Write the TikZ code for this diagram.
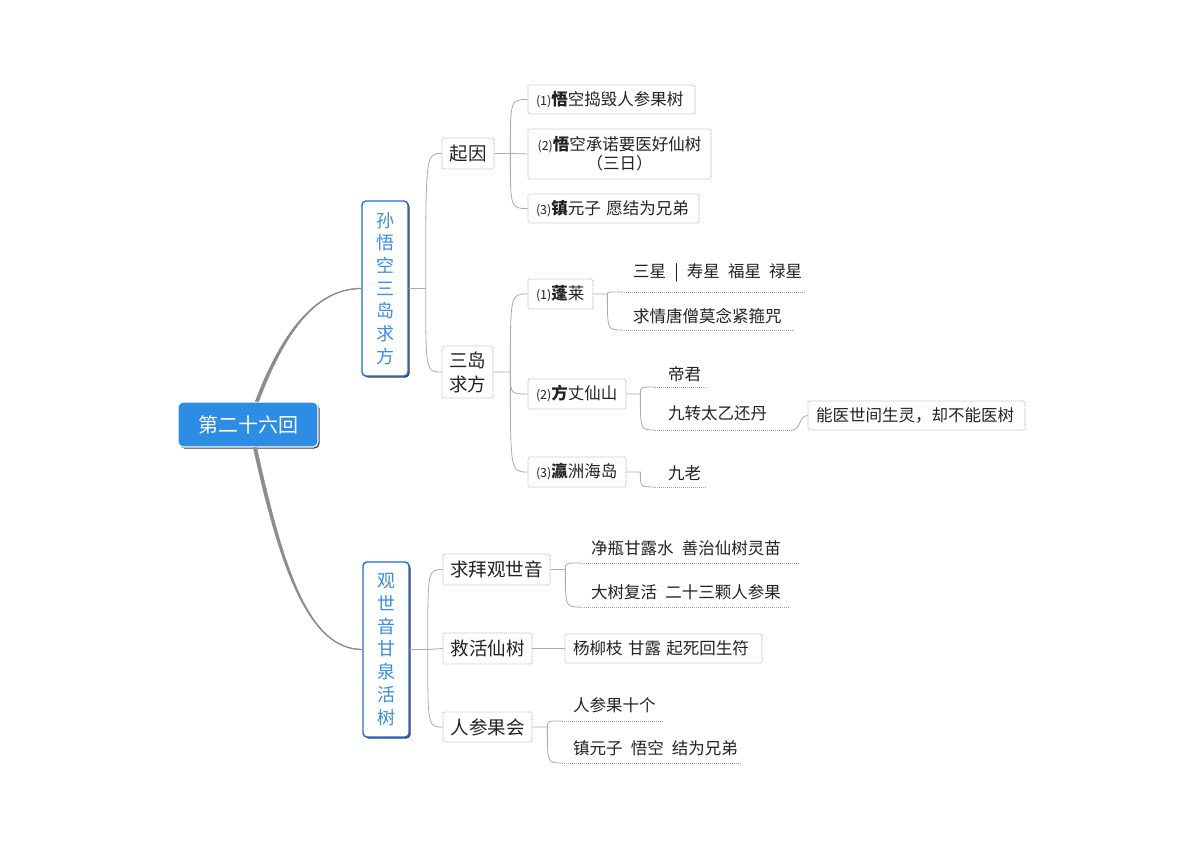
\documentclass[tikz,border=0pt]{standalone}
\usepackage{fontspec}
\setmainfont{Noto Sans CJK SC}[WordSpace=2.2]
\usetikzlibrary{shadows,calc}
\definecolor{rootblue}{HTML}{2D8CE3}
\definecolor{lineblue}{HTML}{1E6FE0}
\definecolor{textblue}{HTML}{3A8CE6}
\definecolor{conn}{HTML}{AAAAAA}
\definecolor{boxline}{HTML}{A0A0A0}
\definecolor{txt}{HTML}{222222}
\newcommand{\nm}[1]{{\fontsize{12.5}{13}\selectfont(#1)}}
\begin{document}
\begin{tikzpicture}[x=1pt,y=-1pt,
 rootbox/.style={rectangle, rounded corners=5pt, fill=rootblue, draw=white, line width=1.2pt, text=white, font=\fontsize{20}{24}\selectfont, minimum width=140pt, minimum height=45pt, inner sep=0pt, drop shadow={shadow xshift=1.5pt, shadow yshift=-1.5pt, fill=black!85, opacity=0.9}},
 mainbox/.style={rectangle, rounded corners=4pt, fill=white, draw=lineblue, line width=1.4pt, text=textblue, font=\fontsize{18}{22.7}\selectfont, align=center, minimum width=46pt, minimum height=175pt, inner sep=0pt, drop shadow={shadow xshift=1.5pt, shadow yshift=-1.5pt, fill=black!85, opacity=0.9}},
 subbox/.style={rectangle, rounded corners=1.5pt, fill=white, draw=boxline, dash pattern=on 1pt off 1pt, line width=0.7pt, text=txt, inner ysep=0pt},
 ltwo/.style={subbox, align=center, inner xsep=0pt, font=\fontsize{18.5}{24}\selectfont},
 lthree/.style={subbox, font=\fontsize{16.5}{19}\selectfont, inner xsep=8pt, text width=#1-16pt, align=left},
 leaftext/.style={anchor=west, text=txt, font=\fontsize{16.5}{19}\selectfont, inner sep=0pt},
 uline/.style={draw=boxline, dash pattern=on 1pt off 1pt, line width=0.7pt},
 link/.style={draw=conn, line width=0.8pt},
 mainlink/.style={fill=black!45, draw=black!45, line width=0.5pt},
]
\fill[white] (0,0) rectangle (1200,845);
\useasboundingbox (0,0) rectangle (1200,845);

% main nodes
\node[rootbox] (root) at (248,424.5) {第二十六回};
\node[mainbox] (A) at (385,288.5) {孙\\悟\\空\\三\\岛\\求\\方};
\node[mainbox] (B) at (386,649.5) {观\\世\\音\\甘\\泉\\活\\树};

% level 2
\node[ltwo, minimum width=52pt, minimum height=31pt] (qiyin) at (468,153.5) {起因};
\node[ltwo, minimum width=51pt, minimum height=52pt] (sandao) at (467.5,372) {三岛\\求方};
\node[ltwo, minimum width=107pt, minimum height=31pt] (qiubai) at (496.5,569.5) {求拜观世音};
\node[ltwo, minimum width=89pt, minimum height=31pt] (jiuhuo) at (487.5,648.5) {救活仙树};
\node[ltwo, minimum width=89pt, minimum height=30pt] (renshen) at (487.5,727) {人参果会};

% level 3 boxes
\node[lthree=167pt, minimum height=29pt] (q1) at (611.5,99.5) {\nm{1}\textbf{悟}空捣毁人参果树};
\node[lthree=183pt, align=center, minimum height=50pt] (q2) at (619.5,154) {\nm{2}\textbf{悟}空承诺要医好仙树\\（三日）};
\node[lthree=171pt, minimum height=29pt] (q3) at (613.5,208.5) {\nm{3}\textbf{镇}元子 愿结为兄弟};
\node[lthree=65pt, minimum height=30pt] (penglai) at (560.5,294) {\nm{1}\textbf{蓬}莱};
\node[lthree=98pt, minimum height=30pt] (fangzhang) at (577,394) {\nm{2}\textbf{方}丈仙山};
\node[lthree=98pt, minimum height=30pt] (yingzhou) at (577,472) {\nm{3}\textbf{瀛}洲海岛};
\node[lthree=217pt, minimum height=29pt] (nengyi) at (916.5,415.5) {能医世间生灵，却不能医树};
\node[lthree=197pt, minimum height=29pt] (yangliu) at (663.5,648.5) {杨柳枝 甘露 起死回生符};

% leaves
\node[leaftext] (sx) at (633,273) {三星 | 寿星 福星 禄星};
\coordinate (sxL) at (622,292); \coordinate (sxR) at (806,292);
\node[leaftext] (qq) at (633,316) {求情唐僧莫念紧箍咒};
\coordinate (qqL) at (622,330); \coordinate (qqR) at (793,330);
\node[leaftext] (dj) at (668,374) {帝君};
\coordinate (djL) at (655,387); \coordinate (djR) at (707,387);
\node[leaftext] (jz) at (668,413) {九转太乙还丹};
\coordinate (jzL) at (655,430); \coordinate (jzR) at (792,430);
\node[leaftext] (jl) at (668,473) {九老};
\coordinate (jlL) at (655,487); \coordinate (jlR) at (707,487);
\node[leaftext] (jp) at (591,548) {净瓶甘露水 善治仙树灵苗};
\coordinate (jpL) at (580,563); \coordinate (jpR) at (800,563);
\node[leaftext] (ds) at (591,592) {大树复活 二十三颗人参果};
\coordinate (dsL) at (580,607); \coordinate (dsR) at (790,607);
\node[leaftext] (rs) at (573,705) {人参果十个};
\coordinate (rsL) at (562,721); \coordinate (rsR) at (663,721);
\node[leaftext] (zy) at (573,748) {镇元子 悟空 结为兄弟};
\coordinate (zyL) at (562,763); \coordinate (zyR) at (742,763);

\foreach \n in {sx,qq,dj,jz,jl,jp,ds,rs,zy} \draw[uline] (\n L) -- (\n R);

% root connectors (tapered)
\path[mainlink] ($(root.north)+(7.3,0)$) .. controls +(25,-66) and +(-47,0) .. ($(A.west)+(0,-0.4)$)
  -- ($(A.west)+(0,0.4)$) .. controls +(-47,0) and +(25,-66) .. ($(root.north)+(10.7,0)$) -- cycle;
\path[mainlink] ($(root.south)+(5.3,0)$) .. controls +(27,123) and +(-53,0) .. ($(B.west)+(0,0.4)$)
  -- ($(B.west)+(0,-0.4)$) .. controls +(-53,0) and +(27,123) .. ($(root.south)+(8.7,0)$) -- cycle;

% junctions
\coordinate (jA) at ($(A.east)+(17,0)$);
\coordinate (jQ) at ($(qiyin.east)+(16,0)$);
\coordinate (jS) at ($(sandao.east)+(17,0)$);
\coordinate (jP) at ($(penglai.east)+(14,0)$);
\coordinate (jF) at ($(fangzhang.east)+(14,0)$);
\coordinate (jY) at ($(yingzhou.east)+(14,0)$);
\coordinate (jB) at ($(B.east)+(18,0)$);
\coordinate (jQB) at ($(qiubai.east)+(15,0)$);
\coordinate (jR) at ($(renshen.east)+(15,0)$);

\draw[link] (A.east) -- (jA) .. controls (jA |- qiyin.west) .. (qiyin.west);
\draw[link] (jA) .. controls (jA |- sandao.west) .. (sandao.west);

\draw[link] (qiyin.east) -- (jQ) -- (q2.west);
\draw[link] (jQ) .. controls (jQ |- q1.west) .. (q1.west);
\draw[link] (jQ) .. controls (jQ |- q3.west) .. (q3.west);

\draw[link] (sandao.east) -- (jS) .. controls (jS |- penglai.west) .. (penglai.west);
\draw[link] (jS) .. controls (jS |- fangzhang.west) .. (fangzhang.west);
\draw[link] (jS) .. controls (jS |- yingzhou.west) .. (yingzhou.west);

\draw[link] (penglai.east) -- (jP) .. controls (jP |- sxL) .. (sxL);
\draw[link] (jP) .. controls (jP |- qqL) .. (qqL);

\draw[link] (fangzhang.east) -- (jF) .. controls (jF |- djL) .. (djL);
\draw[link] (jF) .. controls (jF |- jzL) .. (jzL);
\draw[link] (jzR) .. controls +(9,0) and +(-9,0) .. (nengyi.west);

\draw[link] (yingzhou.east) -- (jY) .. controls (jY |- jlL) .. (jlL);

\draw[link] (B.east) -- (jB) -- (jiuhuo.west);
\draw[link] (jB) .. controls (jB |- qiubai.west) .. (qiubai.west);
\draw[link] (jB) .. controls (jB |- renshen.west) .. (renshen.west);

\draw[link] (qiubai.east) -- (jQB) .. controls (jQB |- jpL) .. (jpL);
\draw[link] (jQB) .. controls (jQB |- dsL) .. (dsL);

\draw[link] (jiuhuo.east) -- (yangliu.west);

\draw[link] (renshen.east) -- (jR) .. controls (jR |- rsL) .. (rsL);
\draw[link] (jR) .. controls (jR |- zyL) .. (zyL);
\end{tikzpicture}
\end{document}
